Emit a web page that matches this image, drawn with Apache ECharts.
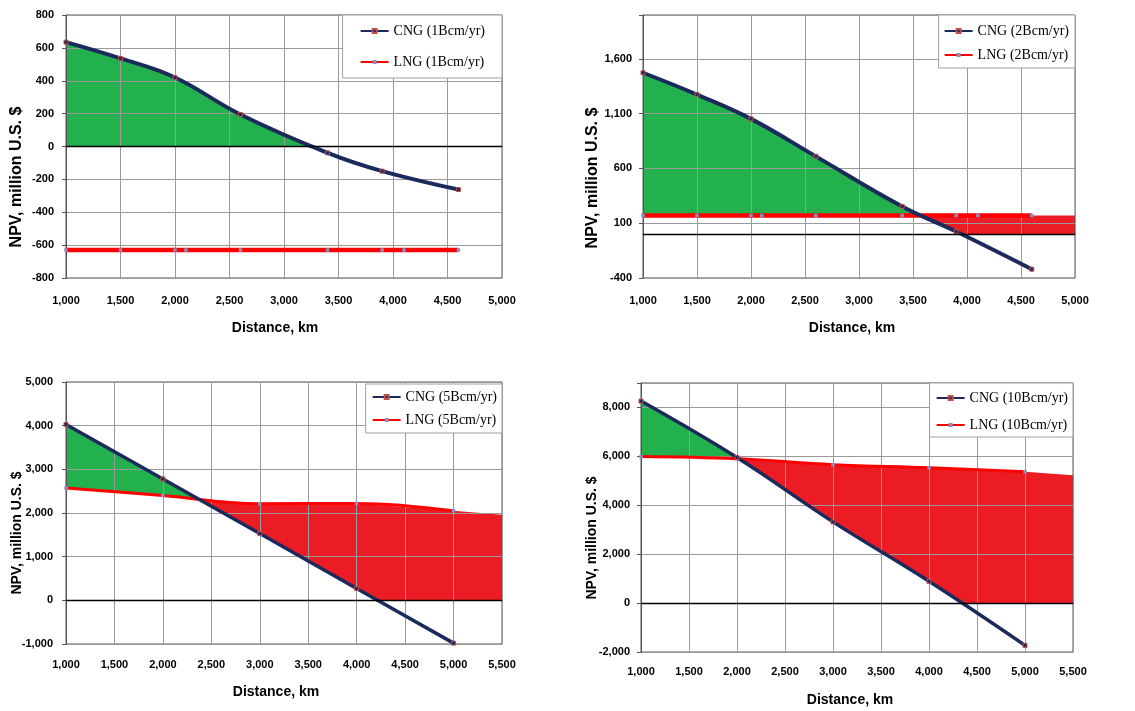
<!DOCTYPE html>
<html>
<head>
<meta charset="utf-8">
<script src="https://cdn.jsdelivr.net/npm/echarts@6/dist/echarts.min.js"></script>
<style>
  html, body { margin: 0; padding: 0; background: #ffffff; }
  #chart { width: 1135px; height: 711px; }
</style>
</head>
<body>
<div id="chart"></div>
<script>
// ---------------- data ----------------
// Panel 1 & 2 distances (km)
const distCng12 = [1000, 1500, 2000, 2600, 3400, 3900, 4600];
const distLng12 = [1000, 1500, 2000, 2100, 2600, 3400, 3900, 4100, 4600];
// Panel 3 & 4 distances (km)
const dist34 = [1000, 2000, 3000, 4000, 5000];

// NPV, million U.S. $
const cng1 = [635, 536, 420, 195, -39, -150, -262];
const lng1 = [-630, -630, -630, -630, -630, -630, -630, -630, -630];
const cng2 = [1473, 1274, 1052, 710, 253, 24, -320];
const lng2 = [170, 170, 170, 170, 170, 170, 170, 170, 170];
const cng5 = [4025, 2780, 1530, 270, -980];
const lng5 = [2570, 2400, 2210, 2220, 2050];
const cng10 = [8260, 5950, 3320, 890, -1730];
const lng10 = [5990, 5900, 5660, 5530, 5370];

// where the shaded LNG band continues past the last LNG point [km, NPV]
const lng2FillEnd = [5000, 170];
const lng5FillEnd = [5500, 1960];
const lng10FillEnd = [5500, 5230];

// axis ticks
const xTicks12 = [1000, 1500, 2000, 2500, 3000, 3500, 4000, 4500, 5000];
const xTicks34 = [1000, 1500, 2000, 2500, 3000, 3500, 4000, 4500, 5000, 5500];
const yTicks1 = [-800, -600, -400, -200, 0, 200, 400, 600, 800];
const yTicks2 = [-400, 100, 600, 1100, 1600];
const yTicks5 = [-1000, 0, 1000, 2000, 3000, 4000, 5000];
const yTicks10 = [-2000, 0, 2000, 4000, 6000, 8000];

const names = {
  c1: 'CNG (1Bcm/yr)', l1: 'LNG (1Bcm/yr)',
  c2: 'CNG (2Bcm/yr)', l2: 'LNG (2Bcm/yr)',
  c5: 'CNG (5Bcm/yr)', l5: 'LNG (5Bcm/yr)',
  c10: 'CNG (10Bcm/yr)', l10: 'LNG (10Bcm/yr)'
};

// ---------------- helpers ----------------
const SANS = '"Liberation Sans", Arial, sans-serif';
const SERIF = '"Liberation Serif", "Times New Roman", serif';
const NAVY = '#1b2a5c';
const RED = '#ff0000';
const GREEN_FILL = '#22b14c';
const RED_FILL = '#ec1c24';
const GRID_LINE = '#9a9a9a';
const FRAME = '#555555';

function zip(xs, ys) { return xs.map((x, i) => [x, ys[i]]); }

function interp(xs, ys, x) {
  if (x <= xs[0]) return ys[0];
  const n = xs.length;
  if (x >= xs[n - 1]) return ys[n - 1];
  for (let i = 1; i < n; i++) {
    if (x <= xs[i]) {
      const t = (x - xs[i - 1]) / (xs[i] - xs[i - 1]);
      return ys[i - 1] + t * (ys[i] - ys[i - 1]);
    }
  }
  return ys[n - 1];
}

// builds the green (CNG above LNG/0) and red (LNG above CNG/0) areas
function buildFills(cx, cy, lx, ly) {
  const c = x => interp(cx, cy, x);
  const l = x => interp(lx, ly, x);
  const xs = Array.from(new Set(cx.concat(lx))).sort((a, b) => a - b);
  const fns = [c, l, x => c(x) - l(x)];
  const refined = [];
  for (let i = 0; i < xs.length; i++) {
    refined.push(xs[i]);
    if (i < xs.length - 1) {
      const a = xs[i], b = xs[i + 1];
      const extra = [];
      fns.forEach(f => {
        const fa = f(a), fb = f(b);
        if (fa * fb < 0) extra.push(a + (b - a) * fa / (fa - fb));
      });
      extra.sort((p, q) => p - q).forEach(e => refined.push(e));
    }
  }
  const regions = [
    { color: GREEN_FILL, top: c, bot: x => Math.max(l(x), 0) },
    { color: RED_FILL, top: l, bot: x => Math.max(c(x), 0) }
  ];
  const polys = [];
  regions.forEach(rg => {
    let run = null;
    for (let i = 0; i < refined.length - 1; i++) {
      const a = refined[i], b = refined[i + 1];
      const m = (a + b) / 2;
      const pos = rg.top(m) - rg.bot(m) > 1e-9;
      if (pos) {
        if (!run) run = [a];
        run.push(b);
      } else if (run) {
        polys.push({ color: rg.color, run: run, rg: rg });
        run = null;
      }
    }
    if (run) polys.push({ color: rg.color, run: run, rg: rg });
  });
  return polys.map(p => {
    const pts = p.run.map(x => [x, p.rg.top(x)]);
    const back = p.run.slice().reverse().map(x => [x, p.rg.bot(x)]);
    return { color: p.color, pts: pts.concat(back) };
  });
}

function fillSeries(idx, cx, cy, lx, ly) {
  const polys = buildFills(cx, cy, lx, ly);
  return {
    type: 'custom',
    xAxisIndex: idx, yAxisIndex: idx,
    z: -1, silent: true, clip: true,
    data: [0],
    renderItem: function (params, api) {
      return {
        type: 'group',
        children: polys.map(p => ({
          type: 'polygon',
          shape: { points: p.pts.map(pt => api.coord(pt)) },
          style: { fill: p.color }
        }))
      };
    }
  };
}

function lngSeries(idx, name, xs, ys, width) {
  return {
    type: 'line', name: name, xAxisIndex: idx, yAxisIndex: idx,
    data: zip(xs, ys), smooth: 0.4, z: 2,
    symbol: 'rect', symbolSize: 3.5, showSymbol: true,
    lineStyle: { color: RED, width: width },
    itemStyle: { color: '#8a8fc0' },
    markLine: {
      silent: true, symbol: 'none', label: { show: false },
      lineStyle: { color: '#000', width: 1.3, type: 'solid' },
      data: [{ yAxis: 0 }]
    }
  };
}

function cngSeries(idx, name, xs, ys, width) {
  return {
    type: 'line', name: name, xAxisIndex: idx, yAxisIndex: idx,
    data: zip(xs, ys), smooth: 0.4, z: 2,
    symbol: 'rect', symbolSize: 4, showSymbol: true,
    lineStyle: { color: NAVY, width: width },
    itemStyle: { color: NAVY, borderColor: '#c0504d', borderWidth: 1 }
  };
}

function xAxis(idx, ticks, margin) {
  return {
    type: 'value', gridIndex: idx, z: 1,
    min: ticks[0], max: ticks[ticks.length - 1], interval: 500,
    axisLine: { show: true, lineStyle: { color: FRAME, width: 1 } },
    axisTick: { show: false },
    axisLabel: {
      margin: margin, color: '#000', fontFamily: SANS, fontWeight: 'bold', fontSize: 11,
      formatter: v => echarts.format.addCommas(v)
    },
    splitLine: { show: true, lineStyle: { color: GRID_LINE, width: 1 } }
  };
}

function yAxis(idx, min, max, labelTicks, margin) {
  const tickVals = labelTicks.slice();
  if (tickVals[tickVals.length - 1] !== max) tickVals.push(max);
  return {
    type: 'value', gridIndex: idx, z: 1,
    min: min, max: max,
    axisLine: { show: true, lineStyle: { color: FRAME, width: 1 } },
    axisTick: { show: true, inside: false, length: 4, lineStyle: { color: FRAME }, customValues: tickVals },
    axisLabel: {
      margin: margin, color: '#000', fontFamily: SANS, fontWeight: 'bold', fontSize: 11,
      customValues: labelTicks,
      formatter: v => echarts.format.addCommas(v)
    },
    splitLine: { show: true, lineStyle: { color: GRID_LINE, width: 1 } }
  };
}

function legend(names2, right, top, padding, gap) {
  return {
    data: names2, orient: 'vertical', right: right, top: top,
    backgroundColor: '#ffffff', borderColor: '#a0a0a0', borderWidth: 1,
    padding: padding, itemGap: gap, itemWidth: 28, itemHeight: 5,
    textStyle: { fontFamily: SERIF, fontSize: 14, color: '#000' },
    selectedMode: false
  };
}

function title(text, x, y, size, vertical) {
  return {
    type: 'text', x: x, y: y, rotation: vertical ? Math.PI / 2 : 0, z: 10,
    style: {
      text: text, fill: '#000', align: 'center', verticalAlign: 'middle',
      font: 'bold ' + size + 'px ' + SANS
    }
  };
}

function grid(left, top, width, height) {
  return {
    left: left, top: top, width: width, height: height,
    show: true, z: 1, backgroundColor: 'transparent',
    borderColor: FRAME, borderWidth: 1
  };
}

// ---------------- chart ----------------
const chart = echarts.init(document.getElementById('chart'), null, { renderer: 'canvas' });

const option = {
  animation: false,
  backgroundColor: '#ffffff',
  grid: [
    grid(66, 15, 436, 263),
    grid(643, 15, 432, 263),
    grid(66, 382, 436, 262),
    grid(641, 383, 432, 269)
  ],
  xAxis: [
    xAxis(0, xTicks12, 17),
    xAxis(1, xTicks12, 17),
    xAxis(2, xTicks34, 15),
    xAxis(3, xTicks34, 14)
  ],
  yAxis: [
    yAxis(0, -800, 800, yTicks1, 12),
    yAxis(1, -400, 2000, yTicks2, 11),
    yAxis(2, -1000, 5000, yTicks5, 13),
    yAxis(3, -2000, 9000, yTicks10, 11)
  ],
  legend: [
    legend([names.c1, names.l1], 633, 15, [9, 17, 9, 17], 17),
    legend([names.c2, names.l2], 60, 15, [9, 6, 6, 5], 10),
    legend([names.c5, names.l5], 633, 384, [6, 5, 6, 6], 9),
    legend([names.c10, names.l10], 62, 383, [8, 5, 5, 6], 13)
  ],
  series: [
    fillSeries(0, distCng12, cng1, distLng12, lng1),
    fillSeries(1, distCng12, cng2, distLng12.concat([lng2FillEnd[0]]), lng2.concat([lng2FillEnd[1]])),
    fillSeries(2, dist34, cng5, dist34.concat([lng5FillEnd[0]]), lng5.concat([lng5FillEnd[1]])),
    fillSeries(3, dist34, cng10, dist34.concat([lng10FillEnd[0]]), lng10.concat([lng10FillEnd[1]])),
    lngSeries(0, names.l1, distLng12, lng1, 4.5),
    cngSeries(0, names.c1, distCng12, cng1, 4),
    lngSeries(1, names.l2, distLng12, lng2, 4.5),
    cngSeries(1, names.c2, distCng12, cng2, 4),
    lngSeries(2, names.l5, dist34, lng5, 3),
    cngSeries(2, names.c5, dist34, cng5, 3.5),
    lngSeries(3, names.l10, dist34, lng10, 3),
    cngSeries(3, names.c10, dist34, cng10, 3.5)
  ],
  graphic: [
    title('Distance, km', 275, 328, 14, false),
    title('Distance, km', 852, 328, 14, false),
    title('Distance, km', 276, 692, 14, false),
    title('Distance, km', 850, 700, 14, false),
    title('NPV, million U.S. $', 17, 177, 16, true),
    title('NPV, million U.S. $', 593, 178, 16, true),
    title('NPV, million U.S. $', 17, 533, 14, true),
    title('NPV, million U.S. $', 592, 538, 14, true)
  ]
};

chart.setOption(option);
</script>
</body>
</html>
